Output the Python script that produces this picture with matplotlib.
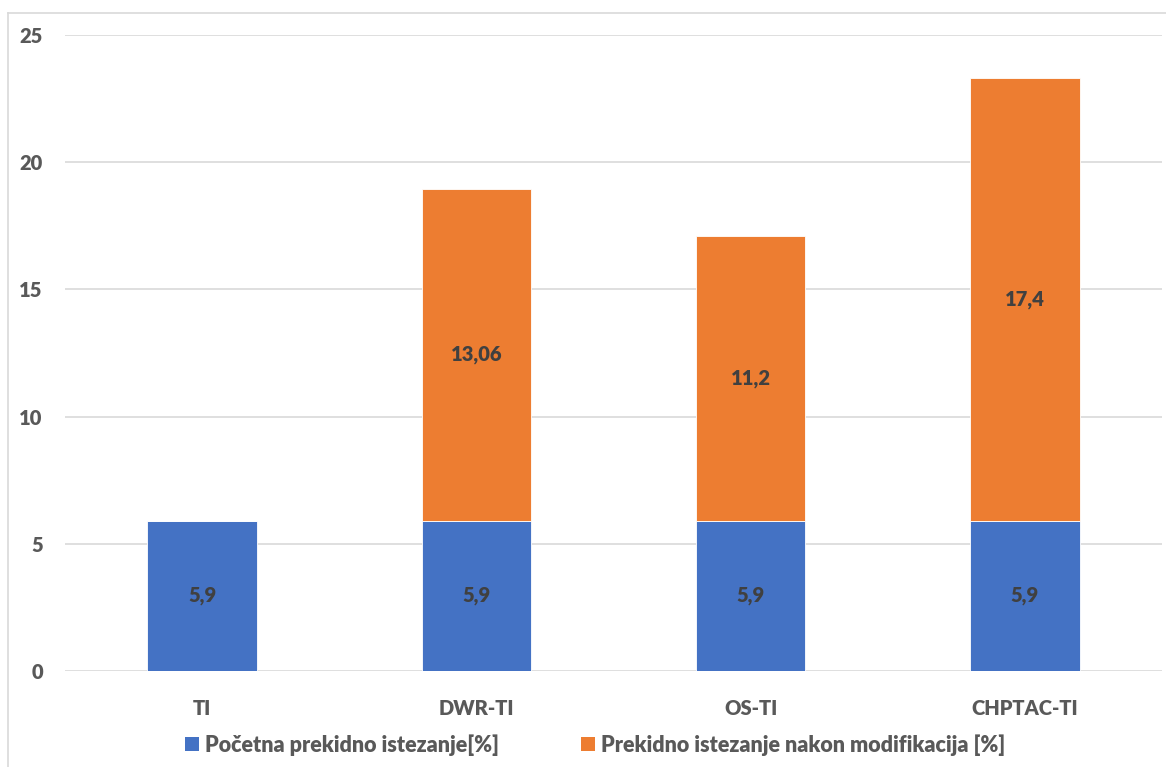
import matplotlib
matplotlib.use("Agg")
import matplotlib.pyplot as plt
from matplotlib.patches import Patch
from matplotlib.lines import Line2D

# podaci
categories = ["TI", "DWR-TI", "OS-TI", "CHPTAC-TI"]
pocetna = [5.9, 5.9, 5.9, 5.9]
nakon_mod = [0, 13.06, 11.2, 17.4]
pocetna_labels = ["5,9", "5,9", "5,9", "5,9"]
nakon_labels = ["", "13,06", "11,2", "17,4"]
yticks = [0, 5, 10, 15, 20, 25]
legend_names = ["Početna prekidno istezanje[%]", "Prekidno istezanje nakon modifikacija [%]"]

blue = "#4472C4"
orange = "#ED7D31"
txt = "#595959"

plt.rcParams["font.family"] = ["Lato", "DejaVu Sans"]
plt.rcParams["font.weight"] = 800

W, H = 1166, 767
fig = plt.figure(figsize=(W / 100, H / 100), dpi=100)
ax = fig.add_axes([65 / W, 96 / H, (1162 - 65) / W, (671 - 35) / H])

x = list(range(len(categories)))
ax.bar(x, pocetna, width=0.4, color=blue, edgecolor="white", linewidth=0.6, zorder=3)
ax.bar(x, nakon_mod, width=0.4, bottom=pocetna, color=orange, edgecolor="white", linewidth=0.6, zorder=3)

for i in x:
    ax.text(i, pocetna[i] / 2, pocetna_labels[i], ha="center", va="center",
            fontsize=14.5, fontweight=800, color="#404040", zorder=4)
    if nakon_mod[i] > 0:
        ax.text(i, pocetna[i] + nakon_mod[i] / 2, nakon_labels[i], ha="center", va="center",
                fontsize=14.5, fontweight=800, color="#404040", zorder=4)

ax.set_xlim(-0.5, len(categories) - 0.5)
ax.set_ylim(0, 25)
ax.set_yticks(yticks)
ax.set_yticklabels([str(t) for t in yticks])
ax.set_xticks(x)
ax.set_xticklabels(categories)
ax.tick_params(axis="y", length=0, pad=16, labelsize=14.5, labelcolor=txt)
ax.tick_params(axis="x", length=0, pad=20, labelsize=14.5, labelcolor=txt)
ax.yaxis.grid(True, color="#D9D9D9", linewidth=1.2, zorder=0)
for s in ax.spines.values():
    s.set_visible(False)

# okvir grafikona
fig.add_artist(Line2D([8 / W, 8 / W], [0, 1 - 13 / H], color="#D9D9D9", linewidth=1.2))
fig.add_artist(Line2D([8 / W, 1], [1 - 13 / H, 1 - 13 / H], color="#D9D9D9", linewidth=1.2))

handles = [Patch(facecolor=blue), Patch(facecolor=orange)]
fig.legend(handles, legend_names, loc="center", bbox_to_anchor=(595 / W, 1 - 745 / H),
           ncol=2, frameon=False, prop={"size": 15.5, "weight": 800}, labelcolor=txt,
           handlelength=0.65, handleheight=0.65, handletextpad=0.3, columnspacing=3.8)

fig.savefig("out.png", dpi=100)
